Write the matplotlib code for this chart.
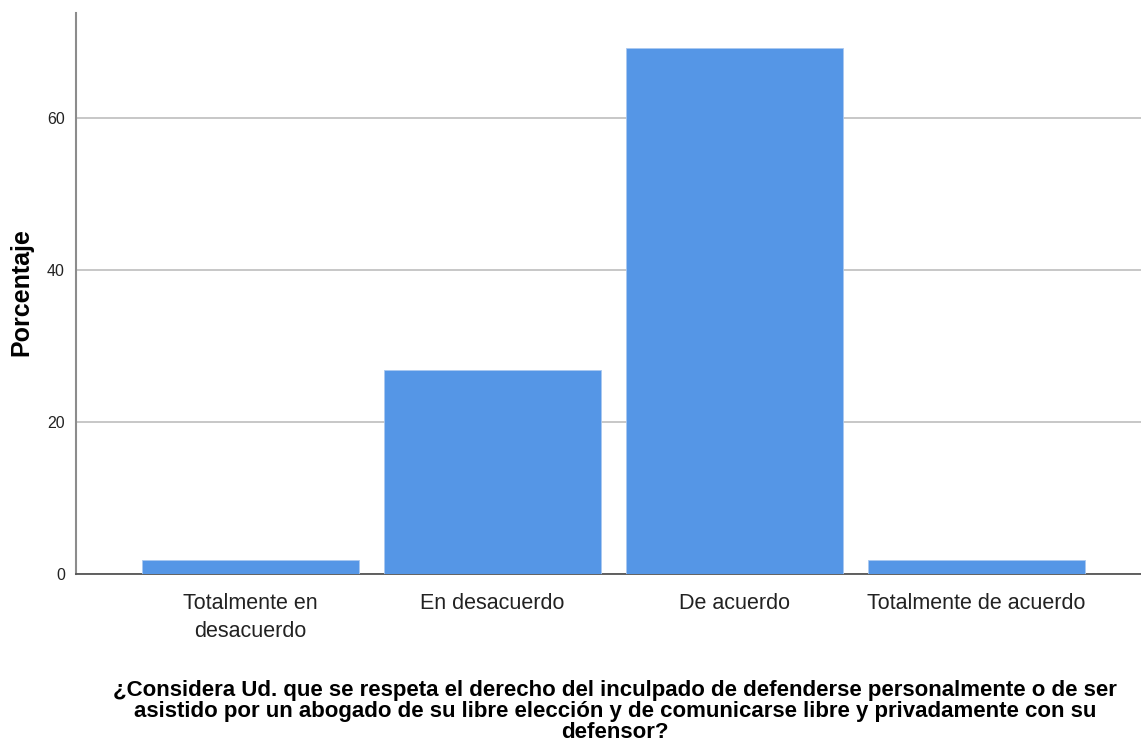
import matplotlib
matplotlib.use("Agg")
import matplotlib.pyplot as plt

# data
categories = ["Totalmente en\ndesacuerdo", "En desacuerdo", "De acuerdo", "Totalmente de acuerdo"]
porcentaje = [1.9, 26.9, 69.2, 1.9]
yticks = [0, 20, 40, 60]

plt.rcParams['font.family'] = ['Liberation Sans', 'DejaVu Sans']

fig = plt.figure(figsize=(11.41, 7.47), dpi=100)
ax = fig.add_axes([0.0666, 0.2316, 0.9334, 0.751])

x = range(len(categories))
ax.bar(x, porcentaje, width=0.895, color='#5596E6', edgecolor='#A9C8F0', linewidth=0.6, zorder=3)

ax.set_xlim(-0.72, 3.68)
ax.set_ylim(0, 73.8)
ax.set_yticks(yticks)
ax.set_xticks(list(x))
ax.set_xticklabels(categories, fontsize=15.5, color='#222222', linespacing=1.4)
ax.tick_params(axis='y', length=0, labelsize=11.5, pad=8, colors='#222222')
ax.tick_params(axis='x', length=0, pad=14)
ax.grid(axis='y', color='#BDBDBD', linewidth=1.2, zorder=0)

for s in ['top', 'right']:
    ax.spines[s].set_visible(False)
ax.spines['left'].set_color('#8C8C8C')
ax.spines['left'].set_linewidth(1.5)
ax.spines['bottom'].set_color('#555555')
ax.spines['bottom'].set_linewidth(1.3)

fig.text(21 / 1141, 1 - 292 / 747, 'Porcentaje', rotation=90, ha='center', va='center',
         fontsize=18, fontweight='bold')
fig.text(0.539, 0.006, '¿Considera Ud. que se respeta el derecho del inculpado de defenderse personalmente o de ser\n'
         'asistido por un abogado de su libre elección y de comunicarse libre y privadamente con su\n'
         'defensor?', ha='center', va='bottom', fontsize=16, fontweight='bold', linespacing=1.0)

fig.savefig('out.png', dpi=100)
